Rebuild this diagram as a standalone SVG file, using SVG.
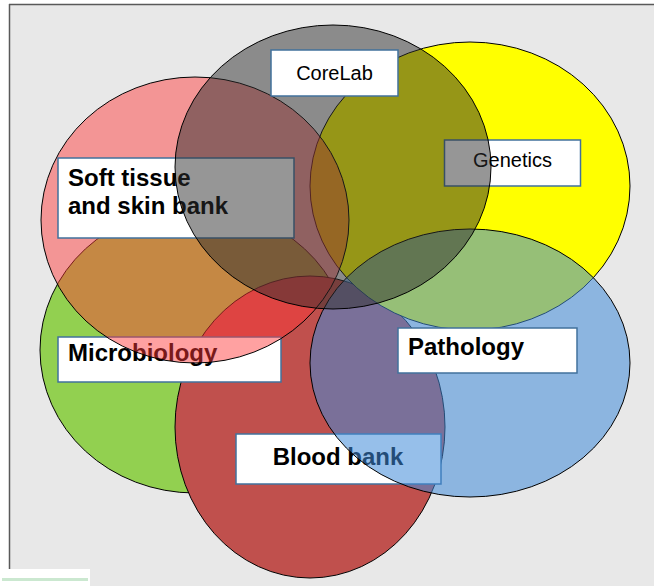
<svg xmlns="http://www.w3.org/2000/svg" width="654" height="586" viewBox="0 0 654 586">
  <style>
    .area { stroke: #000; stroke-width: 1; }
    .pink { fill: #ff3838; fill-opacity: 0.47; }
    .grey { fill: #2e2e2e; fill-opacity: 0.5; }
    .blue { fill: #3f8ad8; fill-opacity: 0.55; }
    .box { fill: #fff; stroke: #41719c; stroke-width: 1.5; }
    .plain { font-family: "Liberation Sans", Arial, sans-serif; font-size: 20px; fill: #000; }
    .bold { font-family: "Liberation Sans", Arial, sans-serif; font-size: 24px; font-weight: bold; fill: #000; }
  </style>

  <!-- page -->
  <rect x="0" y="0" width="654" height="586" fill="#fff"/>
  <rect x="9" y="4" width="645" height="582" fill="#e8e8e8"/>
  <line x1="9" y1="4.5" x2="654" y2="4.5" stroke="#595959" stroke-width="1.5"/>
  <line x1="9.5" y1="4" x2="9.5" y2="569" stroke="#595959" stroke-width="1.5"/>

  <g id="microbiology-area">
    <ellipse class="area" cx="195" cy="350" rx="155" ry="143" fill="#92d050"/>
  </g>
  <g id="blood-bank-area">
    <ellipse class="area" cx="310" cy="427" rx="135" ry="151" fill="#c0504d"/>
  </g>
  <g id="genetics-area">
    <ellipse class="area" cx="470" cy="186" rx="160" ry="144" fill="#ffff00"/>
  </g>

  <g id="microbiology-label">
    <rect class="box" x="58" y="337" width="223" height="45"/>
    <text class="bold" x="68" y="361">Microbiology</text>
  </g>
  <g id="blood-bank-label">
    <rect class="box" x="236" y="434" width="205" height="50"/>
    <text class="bold" x="338" y="465" text-anchor="middle">Blood bank</text>
  </g>
  <g id="genetics-label">
    <rect class="box" x="444.5" y="140" width="136" height="46"/>
    <text class="plain" x="512.5" y="167" text-anchor="middle">Genetics</text>
  </g>

  <g id="soft-tissue-area">
    <ellipse class="area pink" cx="195" cy="220" rx="154" ry="143"/>
  </g>
  <g id="soft-tissue-label">
    <rect class="box" x="58" y="158" width="236" height="80"/>
    <text class="bold" x="68" y="186">Soft tissue</text>
    <text class="bold" x="68" y="214">and skin bank</text>
  </g>

  <g id="pathology-area">
    <ellipse class="area blue" cx="470" cy="363" rx="160" ry="134"/>
  </g>
  <g id="pathology-label">
    <rect class="box" x="398" y="328" width="179" height="45"/>
    <text class="bold" x="408" y="355">Pathology</text>
  </g>

  <g id="corelab-area">
    <ellipse class="area grey" cx="333" cy="167" rx="158" ry="142"/>
  </g>
  <g id="corelab-label">
    <rect class="box" x="271" y="50" width="127" height="46"/>
    <text class="plain" x="334.5" y="80" text-anchor="middle">CoreLab</text>
  </g>

  <!-- corner badge -->
  <g id="badge">
    <rect x="0" y="569" width="90" height="17" fill="#fff"/>
    <rect x="2" y="578" width="86" height="3" fill="#a8d8b0" opacity="0.6"/>
  </g>
</svg>
